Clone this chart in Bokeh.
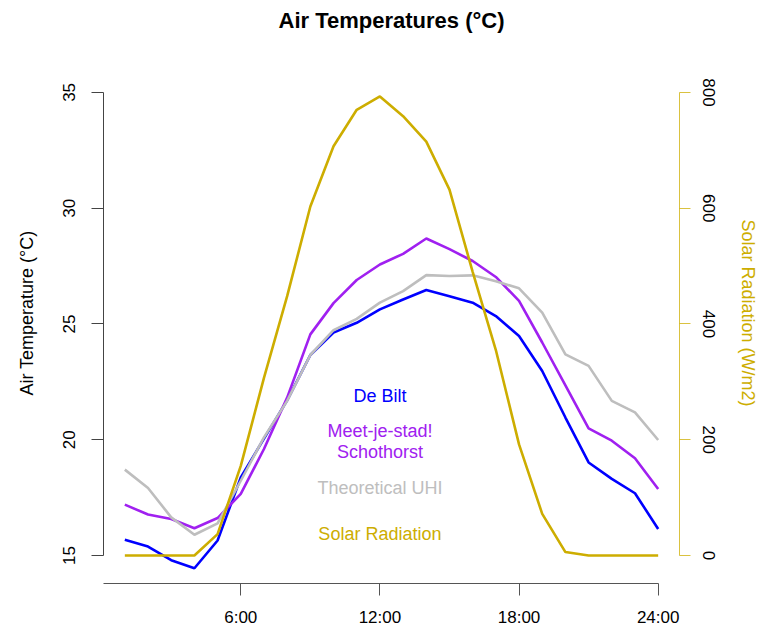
from bokeh.plotting import figure
from bokeh.models import LinearAxis, Range1d, FixedTicker
from bokeh.core.properties import value
from bokeh.embed import file_html
from bokeh.resources import INLINE

# ---- data ----
hours = list(range(1, 25))
de_bilt = [15.68, 15.39, 14.80, 14.45, 15.65, 18.37, 20.05, 21.70, 23.66, 24.63, 25.05, 25.63,
           26.06, 26.47, 26.20, 25.92, 25.34, 24.48, 22.97, 20.96, 19.02, 18.31, 17.69, 16.15]
meet_je_stad = [17.20, 16.77, 16.58, 16.18, 16.62, 17.66, 19.60, 21.82, 24.55, 25.90, 26.90, 27.57,
                28.03, 28.69, 28.23, 27.72, 27.03, 26.00, 24.20, 22.35, 20.49, 19.96, 19.20, 17.87]
theoretical_uhi = [18.71, 17.92, 16.65, 15.90, 16.39, 18.23, 20.10, 21.68, 23.66, 24.73, 25.22, 25.92,
                   26.42, 27.11, 27.07, 27.10, 26.85, 26.54, 25.49, 23.69, 23.19, 21.68, 21.18, 19.99]
solar_radiation = [0, 0, 0, 0, 37, 155, 307, 448, 603, 707, 770, 793,
                   759, 715, 632, 490, 355, 192, 72, 6, 0, 0, 0, 0]

x_ticks = [6, 12, 18, 24]
x_tick_labels = ["6:00", "12:00", "18:00", "24:00"]
temp_ticks = [15, 20, 25, 30, 35]
solar_ticks = [0, 200, 400, 600, 800]

legend_labels = ["De Bilt", "Meet-je-stad!", "Schothorst", "Theoretical UHI", "Solar Radiation"]

# ---- style ----
BLUE = "#0000FF"
PURPLE = "#A020F0"
GRAY = "#BEBEBE"
GOLD = "#CDAD00"
FONT = "Liberation Sans"
legend_colors = [BLUE, PURPLE, PURPLE, GRAY, GOLD]
legend_x = [12, 12, 12, 12, 12]
legend_y = [21.90, 20.40, 19.47, 17.90, 15.93]

Y_LO, Y_HI = 13.7931, 37.155

p = figure(width=764, height=629, output_backend="svg", toolbar_location=None,
           x_range=Range1d(0.08, 24.92), y_range=Range1d(Y_LO, Y_HI),
           x_axis_location=None, y_axis_location=None,
           min_border_left=103, min_border_right=85, min_border_top=41, min_border_bottom=46)
p.extra_y_ranges = {"solar": Range1d((Y_LO - 15) * 40, (Y_HI - 15) * 40)}
p.outline_line_color = None
p.grid.visible = False
p.background_fill_color = "white"
p.border_fill_color = "white"

p.title.text = "Air Temperatures (°C)"
p.title.align = "center"
p.title.vertical_align = "top"
p.title.text_font = FONT
p.title.text_font_size = "22px"
p.title.text_font_style = "bold"
p.title.text_color = "black"
p.title.standoff = 15


def style_axis(ax, color, label_color):
    ax.axis_line_color = color
    ax.major_tick_line_color = color
    ax.minor_tick_line_color = None
    ax.major_tick_in = 0
    ax.major_label_text_font = FONT
    ax.major_label_text_font_size = "17px"
    ax.major_label_text_color = "black"
    ax.axis_label_text_font = FONT
    ax.axis_label_text_font_size = "18px"
    ax.axis_label_text_font_style = "normal"
    ax.axis_label_text_color = label_color


left = LinearAxis(ticker=FixedTicker(ticks=temp_ticks), bounds=(15, 35),
                  axis_label="Air Temperature (°C)")
style_axis(left, "#444444", "black")
left.major_tick_out = 12
left.major_label_orientation = "vertical"
left.major_label_standoff = 16
left.axis_label_standoff = 24
p.add_layout(left, "left")

right = LinearAxis(y_range_name="solar", ticker=FixedTicker(ticks=solar_ticks), bounds=(0, 800),
                   axis_label="Solar Radiation (W/m2)")
style_axis(right, GOLD, GOLD)
right.axis_line_alpha = 0.75
right.major_tick_line_alpha = 0.75
right.major_tick_out = 11
right.major_label_orientation = "vertical"
right.major_label_standoff = 12
right.axis_label_standoff = 20
right.axis_label_orientation = "vertical"
p.add_layout(right, "right")

bottom = LinearAxis(ticker=FixedTicker(ticks=x_ticks), bounds=(0.08, 24),
                    major_label_overrides={t: l for t, l in zip(x_ticks, x_tick_labels)})
style_axis(bottom, "#555555", "black")
bottom.major_tick_out = 12
bottom.major_label_standoff = 12
p.add_layout(bottom, "below")

p.line(hours, de_bilt, line_color=BLUE, line_width=2.6)
p.line(hours, meet_je_stad, line_color=PURPLE, line_width=2.6)
p.line(hours, theoretical_uhi, line_color=GRAY, line_width=2.6)
p.line(hours, solar_radiation, line_color=GOLD, line_width=2.6, y_range_name="solar")

p.text(x=legend_x, y=legend_y, text=legend_labels, text_color=legend_colors,
       text_align="center", text_baseline="middle",
       text_font=value(FONT), text_font_size="18px")

open("out.html", "w").write(file_html(p, INLINE))
